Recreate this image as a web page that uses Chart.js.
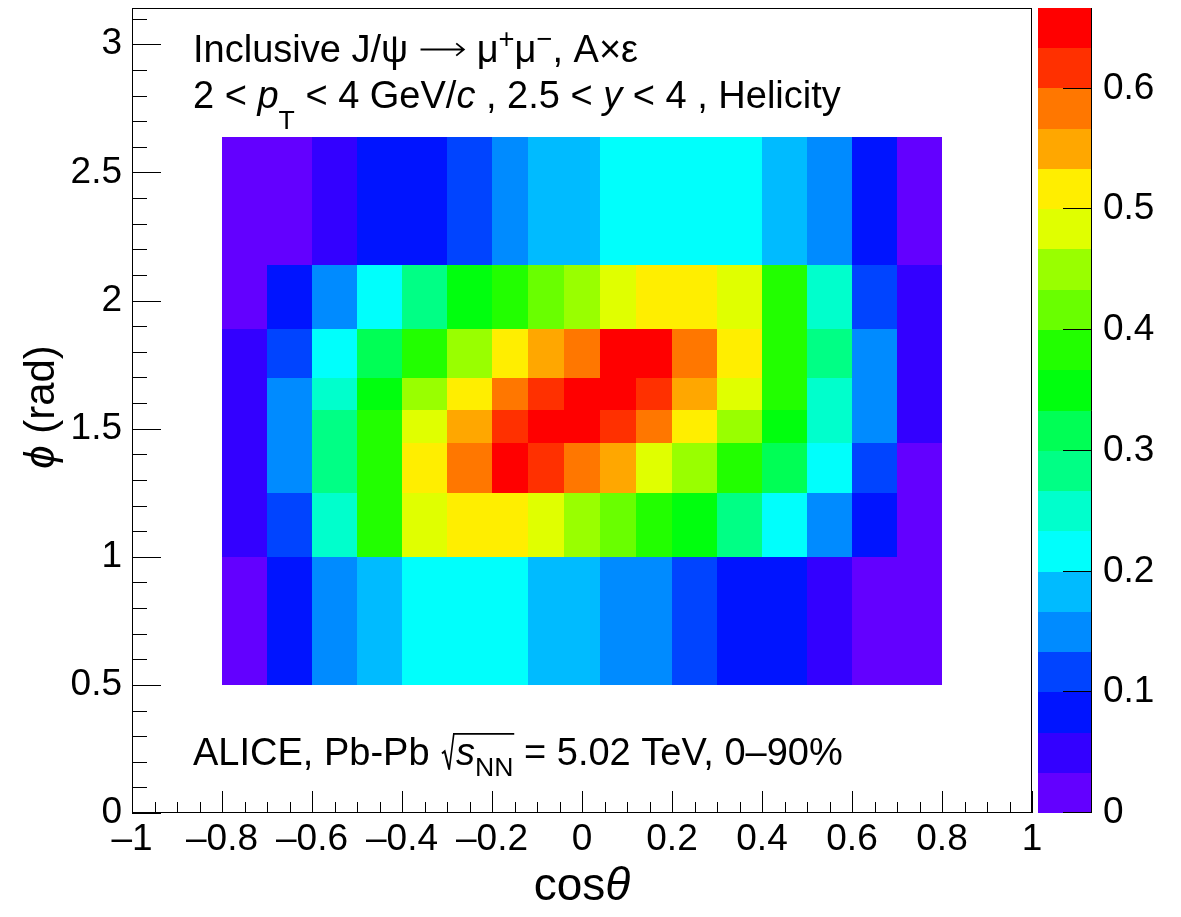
<!DOCTYPE html>
<html><head><meta charset="utf-8">
<script src="https://cdn.jsdelivr.net/npm/chart.js@4.4.1/dist/chart.umd.min.js"></script>
<style>html,body{margin:0;padding:0;background:#fff;}canvas{display:block;}</style>
</head><body>
<canvas id="c" width="1181" height="917"></canvas>
<script>
// ---- data ----
const cosThetaEdges = [-0.8,-0.7,-0.6,-0.5,-0.4,-0.3,-0.2,-0.12,-0.04,0.04,0.12,0.2,0.3,0.4,0.5,0.6,0.7,0.8];
const phiEdges = [0.5,1.0,1.25,1.445,1.571,1.696,1.89,2.14,2.64];
// A x eps per phi bin (bottom to top), one value per cos(theta) bin
const axe_phi_050_100 = [0.02,0.08,0.15,0.18,0.22,0.22,0.22,0.18,0.18,0.15,0.15,0.12,0.08,0.08,0.05,0.02,0.02];
const axe_phi_100_125 = [0.05,0.12,0.25,0.38,0.48,0.52,0.52,0.48,0.45,0.42,0.38,0.35,0.28,0.22,0.15,0.08,0.02];
const axe_phi_125_145 = [0.05,0.15,0.28,0.38,0.52,0.58,0.65,0.62,0.58,0.55,0.48,0.45,0.38,0.32,0.22,0.12,0.02];
const axe_phi_145_157 = [0.05,0.15,0.28,0.38,0.48,0.55,0.62,0.65,0.65,0.62,0.58,0.52,0.45,0.35,0.25,0.15,0.05];
const axe_phi_157_170 = [0.05,0.15,0.25,0.35,0.45,0.52,0.58,0.62,0.65,0.65,0.62,0.55,0.48,0.38,0.25,0.15,0.05];
const axe_phi_170_189 = [0.05,0.12,0.22,0.32,0.38,0.45,0.52,0.55,0.58,0.65,0.65,0.58,0.52,0.38,0.28,0.15,0.05];
const axe_phi_189_214 = [0.02,0.08,0.15,0.22,0.28,0.35,0.38,0.42,0.45,0.48,0.52,0.52,0.48,0.38,0.25,0.12,0.05];
const axe_phi_214_264 = [0.02,0.02,0.05,0.08,0.08,0.12,0.15,0.18,0.18,0.22,0.22,0.22,0.22,0.18,0.15,0.08,0.02];
const axeRows = [axe_phi_050_100,axe_phi_100_125,axe_phi_125_145,axe_phi_145_157,axe_phi_157_170,axe_phi_170_189,axe_phi_189_214,axe_phi_214_264];

const cosThetaTicks = [-1,-0.8,-0.6,-0.4,-0.2,0,0.2,0.4,0.6,0.8,1];
const phiTicks = [0,0.5,1,1.5,2,2.5,3];
const colorTicks = [0,0.1,0.2,0.3,0.4,0.5,0.6];
const zMin = 0, zMax = 0.6667;
const nContours = 20;

// ---- style ----
const FONT = '"Liberation Sans", Arial, Helvetica, sans-serif';
function paletteColor(k){ // ROOT rainbow palette (50 colours) sampled for nContours levels
  const idx = Math.floor((k + 0.99) * 50 / nContours);
  const hue = 280 - (idx + 1) * (280 / 50);
  return 'hsl(' + hue.toFixed(2) + ',100%,50%)';
}
function levelOf(v){
  let k = Math.floor((v - zMin) / (zMax - zMin) * nContours);
  return Math.max(0, Math.min(nContours - 1, k));
}

const cells = [];
axeRows.forEach((row, j) => row.forEach((v, i) => {
  cells.push({x:(cosThetaEdges[i]+cosThetaEdges[i+1])/2, y:(phiEdges[j]+phiEdges[j+1])/2,
    x0:cosThetaEdges[i], x1:cosThetaEdges[i+1], y0:phiEdges[j], y1:phiEdges[j+1], v});
}));

function fmtMinus(v){ return v < 0 ? '\u2013' + String(Math.abs(v)) : String(v); }

function drawRich(ctx, x, y, segs, size){
  let cx = x;
  for (const s of segs){
    if (s.arrow){
      const w = size*s.w, ay = Math.round(y - size*0.33) + 0.5;
      ctx.save();
      ctx.strokeStyle = '#000'; ctx.lineWidth = 1.8;
      ctx.beginPath();
      ctx.moveTo(cx + size*0.05, ay); ctx.lineTo(cx + w - size*0.06, ay);
      ctx.moveTo(cx + w - size*0.26, ay - size*0.16); ctx.lineTo(cx + w - size*0.06, ay); ctx.lineTo(cx + w - size*0.26, ay + size*0.16);
      ctx.stroke();
      ctx.restore();
      cx += w;
      continue;
    }
    if (s.rad){
      const x0 = cx;
      const top = y - size*0.82;
      const innerStart = cx + size*0.42;
      let ix = innerStart;
      for (const q of s.inner){
        const fs = size*(q.sub||q.sup?(q.scale||0.72):1);
        ctx.font = (q.it?'italic ':'') + fs.toFixed(1) + 'px ' + FONT;
        ix += ctx.measureText(q.t).width;
      }
      ctx.save();
      ctx.strokeStyle = '#000'; ctx.lineWidth = 2;
      ctx.beginPath();
      ctx.moveTo(x0 + size*0.05, y - size*0.30);
      ctx.lineTo(x0 + size*0.12, y - size*0.36);
      ctx.lineTo(x0 + size*0.24, y + size*0.12);
      ctx.stroke();
      ctx.lineWidth = 1.6;
      ctx.beginPath();
      ctx.moveTo(x0 + size*0.24, y + size*0.12);
      ctx.lineTo(x0 + size*0.36, top);
      ctx.lineTo(ix + size*0.02, top);
      ctx.stroke();
      ctx.restore();
      cx = drawRich(ctx, innerStart, y, s.inner, size);
      continue;
    }
    const fs = size*(s.sub||s.sup ? (s.scale||0.72) : 1);
    ctx.font = (s.it?'italic ':'') + fs.toFixed(1) + 'px ' + FONT;
    let dy = 0;
    if (s.sub) dy = size*(s.dy!==undefined?s.dy:0.3);
    if (s.sup) dy = -size*(s.dy!==undefined?s.dy:0.38);
    ctx.fillStyle = '#000';
    ctx.textBaseline = 'alphabetic';
    ctx.textAlign = 'left';
    ctx.fillText(s.t, cx, y + dy);
    cx += ctx.measureText(s.t).width + (s.gap||0);
  }
  return cx;
}

const line1 = [{t:'Inclusive J/\u03C8 '},{arrow:true,w:1.25},{t:' \u03BC'},{t:'+',sup:true},{t:'\u03BC'},{t:'\u2212',sup:true},{t:', A\u00D7\u03B5'}];
const line2 = [{t:'2 < '},{t:'p',it:true},{t:'T',sub:true,dy:0.55,scale:0.7},{t:' < 4 GeV/'},{t:'c',it:true},{t:' , 2.5 < '},{t:'y',it:true},{t:' < 4 , Helicity'}];
const line3 = [{t:'ALICE, Pb-Pb '},{rad:true,inner:[{t:'s',it:true},{t:'NN',sub:true,dy:0.28,scale:0.7}]},{t:' = 5.02 TeV, 0\u201390%'}];

const heatPlugin = {
  id:'heat',
  beforeDatasetsDraw(chart){
    const ctx = chart.ctx, xs = chart.scales.x, ys = chart.scales.y;
    ctx.save();
    for (const c of chart.data.datasets[0].data){
      const l = Math.round(xs.getPixelForValue(c.x0)), r = Math.round(xs.getPixelForValue(c.x1));
      const t = Math.round(ys.getPixelForValue(c.y1)), b = Math.round(ys.getPixelForValue(c.y0));
      ctx.fillStyle = paletteColor(levelOf(c.v));
      ctx.fillRect(l, t, r - l, b - t);
    }
    ctx.restore();
  },
  afterDraw(chart){
    const ctx = chart.ctx, ca = chart.chartArea;
    const xs = chart.scales.x, ys = chart.scales.y, zs = chart.scales.z;
    ctx.save();
    // frame
    ctx.strokeStyle = '#000'; ctx.lineWidth = 1;
    ctx.strokeRect(Math.round(ca.left)+0.5, Math.round(ca.top)+0.5, Math.round(ca.width)-1, Math.round(ca.height)-1);
    // x ticks (inward)
    ctx.beginPath();
    for (let i = 0; i <= 40; i++){
      const v = -1 + i*0.05;
      const px = Math.round(xs.getPixelForValue(v)) + 0.5;
      const len = (i % 4 === 0) ? 22 : 11;
      ctx.moveTo(px, ca.bottom); ctx.lineTo(px, ca.bottom - len);
    }
    // y ticks (inward)
    for (let i = 0; i <= 31; i++){
      const v = i*0.1;
      const py = Math.round(ys.getPixelForValue(v)) + 0.5;
      const len = (i % 5 === 0) ? 29 : 15;
      ctx.moveTo(ca.left, py); ctx.lineTo(ca.left + len, py);
    }
    ctx.stroke();
    // colour bar
    const bx0 = Math.round(ca.right) + 6, bx1 = bx0 + 54;
    for (let k = 0; k < nContours; k++){
      const v0 = zMin + (zMax - zMin)*k/nContours, v1 = zMin + (zMax - zMin)*(k+1)/nContours;
      const t = Math.round(zs.getPixelForValue(v1)), b = Math.round(zs.getPixelForValue(v0));
      ctx.fillStyle = paletteColor(k);
      ctx.fillRect(bx0, t, bx1 - bx0, b - t);
    }
    ctx.strokeStyle = '#000'; ctx.lineWidth = 1;
    ctx.beginPath();
    ctx.moveTo(bx1 - 0.5, Math.round(zs.getPixelForValue(zMax))); ctx.lineTo(bx1 - 0.5, Math.round(zs.getPixelForValue(zMin)));
    for (const v of colorTicks){
      const py = Math.round(zs.getPixelForValue(v)) - 0.5;
      ctx.moveTo(bx1 - 29, py); ctx.lineTo(bx1, py);
    }
    ctx.stroke();
    // axis titles
    ctx.fillStyle = '#000'; ctx.textBaseline = 'alphabetic';
    ctx.font = '46px ' + FONT;
    const w1 = ctx.measureText('cos').width;
    ctx.font = 'italic 46px ' + FONT;
    const w2 = ctx.measureText('\u03B8').width;
    const tx = (ca.left + ca.right)/2 - (w1 + w2)/2;
    ctx.font = '46px ' + FONT; ctx.textAlign = 'left';
    ctx.fillText('cos', tx, 900);
    ctx.font = 'italic 46px ' + FONT;
    ctx.fillText('\u03B8', tx + w1, 900);
    // y title rotated
    ctx.save();
    ctx.translate(54, 407);
    ctx.rotate(-Math.PI/2);
    ctx.font = 'italic 42px ' + FONT;
    const p1 = ctx.measureText('\u03D5').width;
    ctx.font = '42px ' + FONT;
    const p2 = ctx.measureText(' (rad)').width;
    let sx = -(p1 + p2)/2;
    ctx.font = 'italic 42px ' + FONT; ctx.fillText('\u03D5', sx, 0);
    ctx.font = '42px ' + FONT; ctx.fillText(' (rad)', sx + p1, 0);
    ctx.restore();
    // annotations
    drawRich(ctx, 193, 62, line1, 38);
    drawRich(ctx, 193, 108, line2, 38);
    drawRich(ctx, 193, 765, line3, 38);
    ctx.restore();
  }
};

function fixTicks(list){ return function(scale){ scale.ticks = list.map(v => ({value:v})); }; }
function zeroPad(scale){ scale.paddingTop = 0; scale.paddingBottom = 0; scale.paddingLeft = 0; scale.paddingRight = 0; }

new Chart(document.getElementById('c'), {
  type:'scatter',
  data:{ datasets:[{ data: cells, pointRadius:0, pointHoverRadius:0, showLine:false }] },
  options:{
    responsive:false, animation:false, devicePixelRatio:1,
    layout:{ padding:{ top:8, left:0, right:0, bottom:0 } },
    plugins:{ legend:{display:false}, tooltip:{enabled:false} },
    events:[],
    scales:{
      x:{ type:'linear', position:'bottom', min:-1, max:1,
          grid:{display:false, drawTicks:false}, border:{display:false},
          ticks:{ color:'#000', font:{family:FONT, size:37}, padding:5, maxRotation:0, autoSkip:false, callback:v=>fmtMinus(v) },
          afterBuildTicks: fixTicks(cosThetaTicks),
          afterFit(s){ s.height = 104; zeroPad(s); } },
      y:{ type:'linear', position:'left', min:0, max:Math.PI,
          grid:{display:false, drawTicks:false}, border:{display:false},
          ticks:{ color:'#000', font:{family:FONT, size:37}, padding:10, autoSkip:false, callback:v=>String(v) },
          afterBuildTicks: fixTicks(phiTicks),
          afterFit(s){ s.width = 132; zeroPad(s); } },
      z:{ type:'linear', axis:'y', position:'right', min:zMin, max:zMax,
          grid:{display:false, drawTicks:false}, border:{display:false},
          ticks:{ color:'#000', font:{family:FONT, size:37}, padding:71, autoSkip:false, callback:v=>String(v) },
          afterBuildTicks: fixTicks(colorTicks),
          afterFit(s){ s.width = 149; zeroPad(s); } }
    }
  },
  plugins:[heatPlugin]
});
</script>
</body></html>
